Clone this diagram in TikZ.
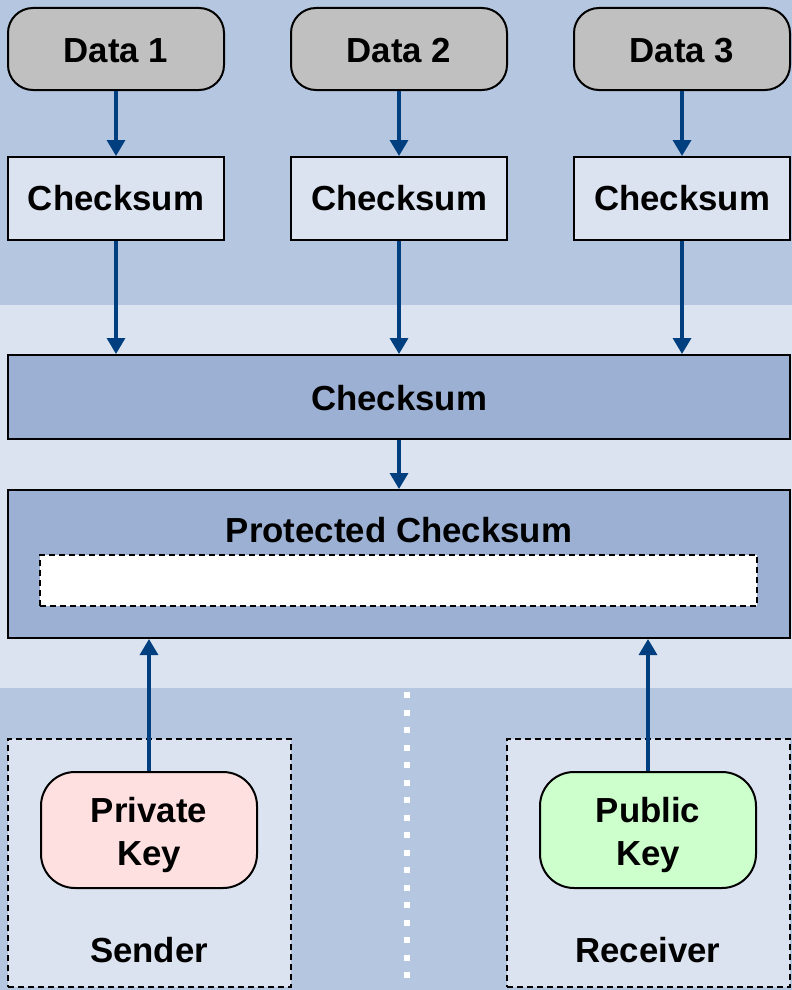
\documentclass[tikz,border=0pt]{standalone}
\usepackage{fontspec}
\setmainfont{Liberation Sans}
\usetikzlibrary{arrows.meta}
\definecolor{bandDark}{RGB}{180,198,224}
\definecolor{bandLight}{RGB}{220,227,240}
\definecolor{boxBlue}{RGB}{155,176,210}
\definecolor{dataGray}{RGB}{192,192,192}
\definecolor{arrowBlue}{RGB}{0,63,127}
\definecolor{privFill}{RGB}{255,224,224}
\definecolor{pubFill}{RGB}{204,255,204}
% shift a label's ink down without changing the node's size
\newcommand{\lowerby}[2]{\raisebox{-#1}[\height][\depth]{#2}}
\tikzset{
  x=1pt, y=-1pt,
  lbl/.style={font=\fontsize{34.8}{43}\selectfont\bfseries, align=center},
  databox/.style={lbl, draw=black, line width=2pt, fill=dataGray, rounded corners=25pt,
    minimum width=216pt, minimum height=82pt, inner sep=0pt},
  sumbox/.style={lbl, draw=black, line width=2pt, fill=bandLight,
    minimum width=216pt, minimum height=83pt, inner sep=0pt},
  widebox/.style={draw=black, line width=2pt, fill=boxBlue, inner sep=0pt},
  keybox/.style={lbl, draw=black, line width=2pt, rounded corners=34pt,
    minimum width=216pt, minimum height=116pt, inner sep=0pt},
  partybox/.style={draw=black, line width=1.6pt, dash pattern=on 6pt off 4pt, fill=bandLight, inner sep=0pt},
  flow/.style={draw=arrowBlue, line width=3.4pt, -{Triangle[length=16pt, width=18pt]}},
}
\begin{document}
\begin{tikzpicture}
  % background bands
  \fill[bandDark]  (0,0)   rectangle (792,305);
  \fill[bandLight] (0,305) rectangle (792,688);
  \fill[bandDark]  (0,688) rectangle (792,990);
  \useasboundingbox (0,0) rectangle (792,990);
  % dotted divider between the two parties
  \draw[white, line width=6.5pt, dash pattern=on 6pt off 11.5pt] (407,692) -- (407,990);

  % data sources
  \node[databox] (d1) at (116,49) {\lowerby{2pt}{Data 1}};
  \node[databox] (d2) at (399,49) {\lowerby{2pt}{Data 2}};
  \node[databox] (d3) at (682,49) {\lowerby{2pt}{Data 3}};

  % per-block checksums
  \node[sumbox] (c1) at (116,198.5) {Checksum};
  \node[sumbox] (c2) at (399,198.5) {Checksum};
  \node[sumbox] (c3) at (682,198.5) {Checksum};

  % combined checksum
  \node[widebox, minimum width=782pt, minimum height=84pt, lbl] (all) at (399,397) {\lowerby{1.5pt}{Checksum}};

  % protected checksum
  \node[widebox, minimum width=782pt, minimum height=148pt] (prot) at (399,564) {};
  \node[lbl, anchor=center] (protlbl) at (399,530) {Protected Checksum};
  \node[draw=black, line width=1.6pt, dash pattern=on 6pt off 4pt, fill=white,
        minimum width=717pt, minimum height=51pt, inner sep=0pt] (slot) at (398.5,580.5) {};

  % sender and receiver
  \node[partybox, minimum width=283pt, minimum height=248pt] (sender) at (149.5,863) {};
  \node[partybox, minimum width=283pt, minimum height=248pt] (receiver) at (648.5,863) {};
  \node[keybox, fill=privFill] (priv) at (149,830) {\lowerby{5pt}{\parbox{200pt}{\centering Private\\Key}}};
  \node[keybox, fill=pubFill] (pub) at (648,830) {\lowerby{5pt}{\parbox{200pt}{\centering Public\\Key}}};
  \node[lbl] (sendlbl) at (149,950) {Sender};
  \node[lbl] (recvlbl) at (648,950) {Receiver};

  % data flow
  \draw[flow] (d1) -- (c1);
  \draw[flow] (d2) -- (c2);
  \draw[flow] (d3) -- (c3);
  \draw[flow] (c1.south) -- (c1.south |- all.north);
  \draw[flow] (c2.south) -- (c2.south |- all.north);
  \draw[flow] (c3.south) -- (c3.south |- all.north);
  \draw[flow] (all) -- (prot);
  \draw[flow] (priv.north) -- (priv.north |- prot.south);
  \draw[flow] (pub.north) -- (pub.north |- prot.south);
\end{tikzpicture}
\end{document}
